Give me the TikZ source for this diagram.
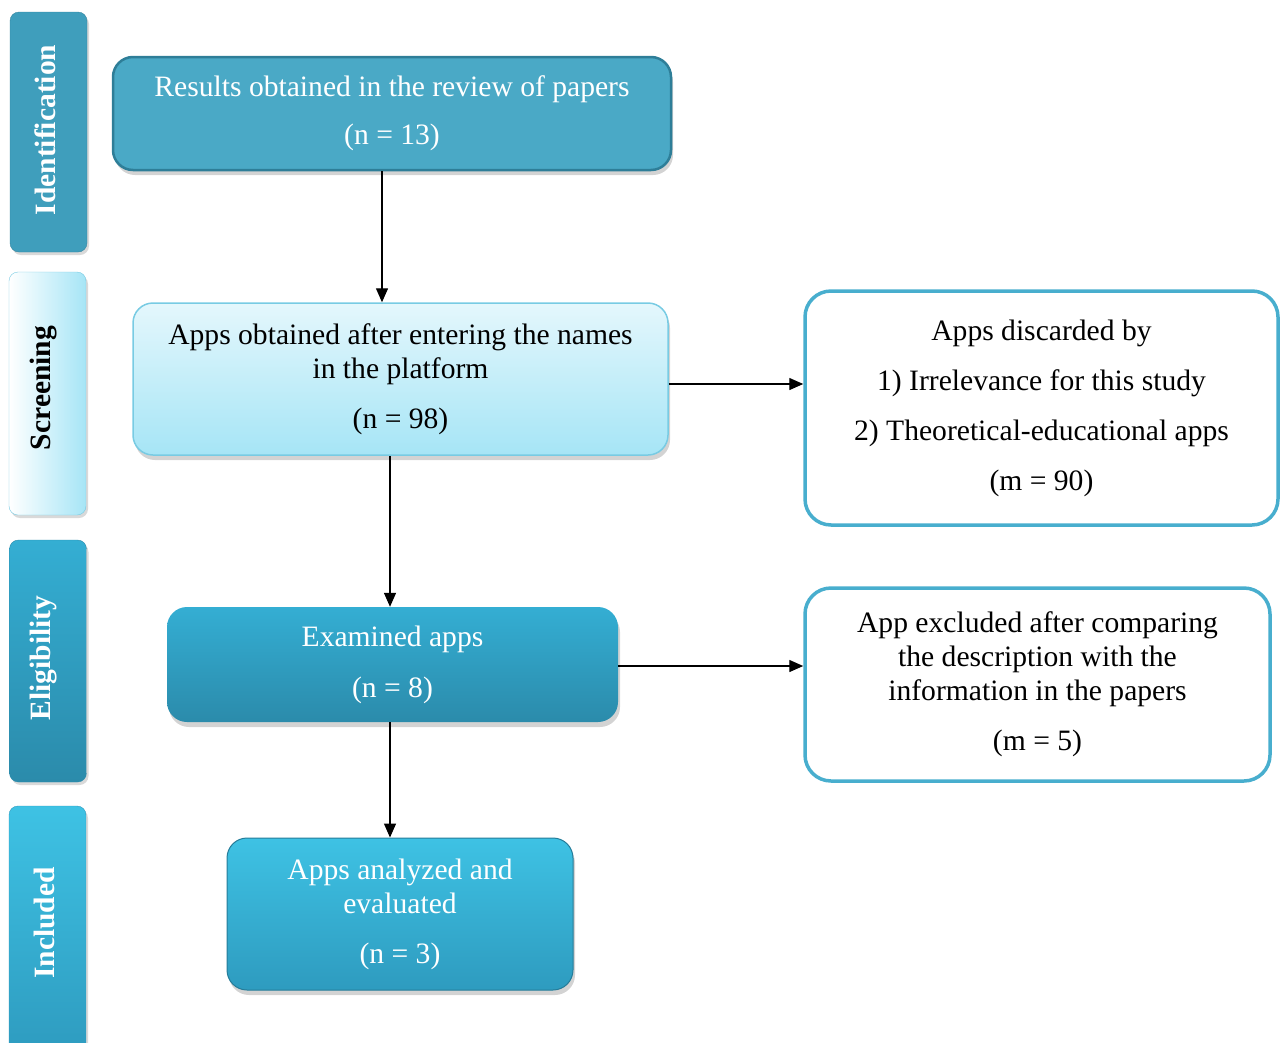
\documentclass[tikz,border=0pt]{standalone}
\usepackage{fontspec}
\setmainfont{Liberation Serif}
\usetikzlibrary{arrows.meta,shadows}
\definecolor{idc}{HTML}{3F9EBC}
\definecolor{bonefill}{HTML}{4AA9C6}
\definecolor{boneline}{HTML}{2E7E98}
\definecolor{lighttop}{HTML}{E4F7FC}
\definecolor{lightbot}{HTML}{A6E5F6}
\definecolor{lightline}{HTML}{78CBE3}
\definecolor{midtop}{HTML}{34AED3}
\definecolor{midbot}{HTML}{2B8BAB}
\definecolor{brtop}{HTML}{3EC2E4}
\definecolor{brbot}{HTML}{2E9BBF}
\definecolor{rline}{HTML}{48AECE}
\tikzset{
  mainfont/.style={font=\fontsize{29.6}{34}\selectfont},
  barfont/.style={font=\fontsize{29.5}{32}\selectfont\bfseries},
  flowbox/.style={mainfont, rounded corners=20pt, align=center, inner sep=0pt,
    drop shadow={shadow xshift=2pt, shadow yshift=-5pt, opacity=0.35}},
  sidebar/.style={rounded corners=9pt, minimum width=77pt, inner sep=0pt,
    drop shadow={shadow xshift=2pt, shadow yshift=-3pt, opacity=0.3}},
  barlabel/.style={barfont, rotate=90, inner sep=0pt},
  sidebox/.style={mainfont, draw=rline, line width=3.5pt, fill=white,
    rounded corners=26pt, align=center, inner sep=0pt},
  conn/.style={line width=1.4pt, -{Triangle[length=14pt,width=12pt]}}
}
\begin{document}
\begin{tikzpicture}[x=1pt,y=-1pt]
\useasboundingbox (0,0) rectangle (1280,1042);
\clip (0,0) rectangle (1280,1042);
% side bars
\node[sidebar, fill=idc, draw=idc!85!black, minimum height=240pt] (sb1) at (48.5,132) {};
\node[barlabel, text=white] (sl1) at (45,130) {Identification};
\node[sidebar, left color=white, right color=lightbot, draw=lightline, minimum height=243pt] (sb2) at (47.5,393.5) {};
\node[barlabel, text=black] (sl2) at (44,388) {Screening};
\node[sidebar, top color=midtop, bottom color=midbot, draw=midbot, minimum height=242pt] (sb3) at (48,661) {};
\node[barlabel, text=white] (sl3) at (44,658) {Eligibility};
\node[sidebar, top color=brtop, bottom color=brbot, draw=brbot, minimum height=250pt] (sb4) at (47.5,931) {};
\node[barlabel, text=white] (sl4) at (44,923) {Included};
% main boxes
\node[flowbox, fill=bonefill, draw=boneline, line width=2.5pt, text=white,
  minimum width=558pt, minimum height=113pt] (b1) at (392,113.5)
  {Results obtained in the review of papers\\[14pt](n = 13)};
\node[flowbox, top color=lighttop, bottom color=lightbot, draw=lightline, line width=1.5pt,
  minimum width=535pt, minimum height=152pt] (b2) at (400.5,379)
  {Apps obtained after entering the names\\in the platform\\[16pt](n = 98)};
\node[flowbox, top color=midtop, bottom color=midbot, text=white,
  minimum width=451pt, minimum height=115pt] (b3) at (392.5,664.5)
  {Examined apps\\[17pt](n = 8)};
\node[flowbox, top color=brtop, bottom color=brbot, draw=brbot!80!black, line width=1pt, text=white,
  minimum width=346pt, minimum height=152pt] (b4) at (400,914)
  {Apps analyzed and\\evaluated\\[16pt](n = 3)};
% right boxes
\node[sidebox, minimum width=473pt, minimum height=234pt] (r1) at (1041.5,408)
  {Apps discarded by\\[16pt]1) Irrelevance for this study\\[16pt]2) Theoretical-educational apps\\[16pt](m = 90)};
\node[sidebox, minimum width=465pt, minimum height=193pt] (r2) at (1037.5,684.5)
  {App excluded after comparing\\the description with the\\information in the papers\\[16pt](m = 5)};
% connectors
\coordinate (colA) at (382,0);
\coordinate (colB) at (390,0);
\coordinate (rowA) at (0,384);
\coordinate (rowB) at (0,666);
\draw[conn] (b1.south -| colA) -- (b2.north -| colA);
\draw[conn] (b2.south -| colB) -- (b3.north -| colB);
\draw[conn] (b3.south -| colB) -- (b4.north -| colB);
\draw[conn] (b2.east |- rowA) -- (r1.west |- rowA);
\draw[conn] (b3.east |- rowB) -- (r2.west |- rowB);
\end{tikzpicture}
\end{document}
